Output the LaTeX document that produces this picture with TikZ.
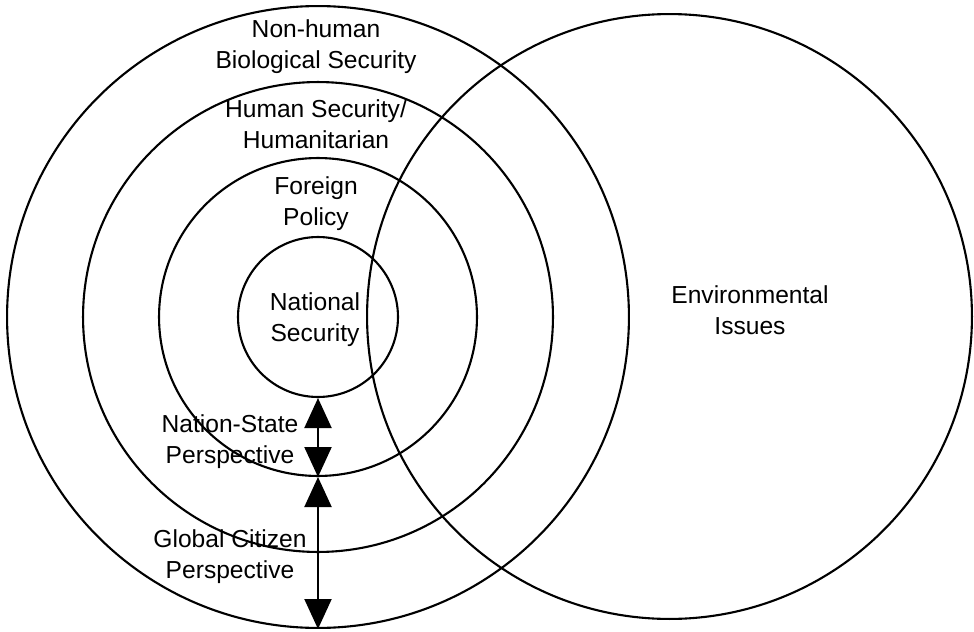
\documentclass[tikz,border=0pt]{standalone}
\usepackage{fontspec}
\setmainfont{Liberation Sans}
\usetikzlibrary{arrows.meta}

\begin{document}
\begin{tikzpicture}[x=0.02cm,y=-0.02cm,
    ring/.style={circle,draw,line width=1.2pt,inner sep=0pt},
    lbl/.style={anchor=north,inner sep=0pt,align=center,font=\fontsize{14}{17.6}\selectfont},
    twoway/.style={line width=1.2pt,{Triangle[length=0.6cm,width=0.54cm]}-{Triangle[length=0.6cm,width=0.54cm]}}]
        \useasboundingbox (0,0) rectangle (974,632);
        % concentric rings
        \node[ring,minimum size=12.44cm] (biosec) at (318,317) {};
        \node[ring,minimum size=9.4cm] (humsec) at (318,317) {};
        \node[ring,minimum size=6.36cm] (foreign) at (318,317) {};
        \node[ring,minimum size=3.2cm] (natsec) at (318,317) {};
        % environment circle
        \node[ring,minimum size=12.1cm] (envir) at (669.5,316.5) {};
        % ring labels
        \node[lbl] (biosectxt) at (316,19) {Non-human\\Biological Security};
        \node[lbl] (humsectxt) at (316,99) {Human Security/\\Humanitarian};
        \node[lbl] (foreigntxt) at (316,176) {Foreign\\Policy};
        \node[lbl] (natsectxt) at (315,292) {National\\Security};
        \node[lbl] (envirtxt) at (750,285) {Environmental\\Issues};
        % perspectives
        \draw[twoway] (natsec.south) -- (foreign.south);
        \draw[twoway] (foreign.south) -- (biosec.south);
        \node[lbl] (nationtxt) at (230,414) {Nation-State\\Perspective};
        \node[lbl] (globaltxt) at (230,529) {Global Citizen\\Perspective};
      \end{tikzpicture}
\end{document}
